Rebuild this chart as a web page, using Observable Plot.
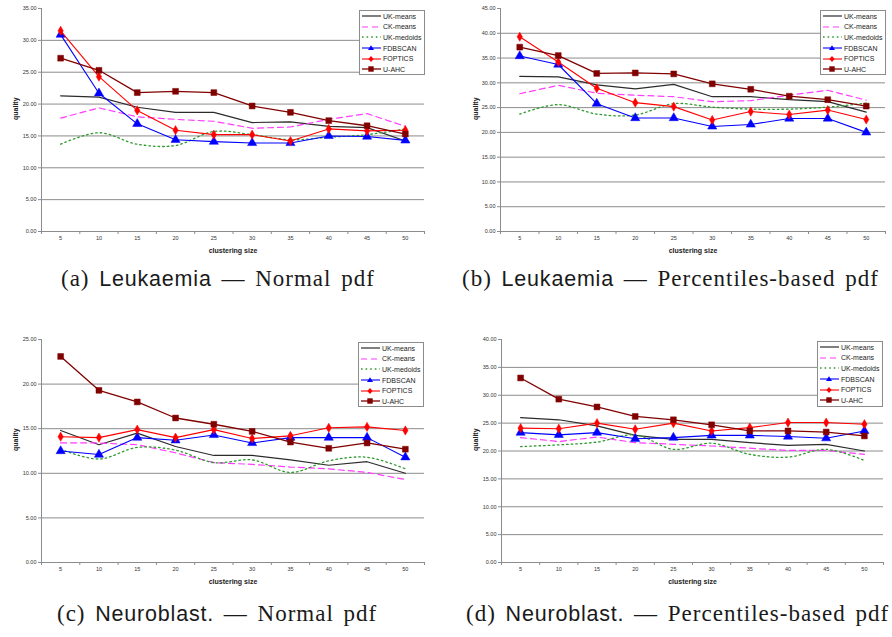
<!DOCTYPE html>
<html>
<head>
<meta charset="utf-8">
<script src="https://cdn.jsdelivr.net/npm/d3@7"></script>
<script src="https://cdn.jsdelivr.net/npm/@observablehq/plot@0.6"></script>
<style>
  html, body { margin: 0; padding: 0; background: #fff; overflow: hidden; }
  #fig { position: relative; width: 892px; height: 637px; background: #fff; }
  .panel { position: absolute; }
  .legend {
    position: absolute; background: #fff; border: 1px solid #8c8c8c;
    box-sizing: border-box; padding-top: 0px;
    font: 7px "Liberation Sans", Arial, sans-serif; color: #222;
  }
  .legend .row { display: flex; align-items: center; height: 10.6px; white-space: nowrap; }
  .legend svg { display: block; margin-left: 1px; margin-right: 2px; }
  .caption {
    position: absolute; white-space: nowrap; color: #1a1a1a;
    font-family: "Liberation Serif", "DejaVu Serif", "Times New Roman", serif; font-size: 23px;
    letter-spacing: 1px; word-spacing: 3px; line-height: 1;
  }
  .caption .ds { font-family: "Liberation Sans", Arial, sans-serif; font-size: 21.5px; letter-spacing: 0.8px; }
</style>
</head>
<body>
<div id="fig"></div>
<script>
// cluster sizes on the x axis
const sizes = [5, 10, 15, 20, 25, 30, 35, 40, 45, 50];
const methods = ["UK-means", "CK-means", "UK-medoids", "FDBSCAN", "FOPTICS", "U-AHC"];

// quality per method (rows follow `methods`)
const leukaemiaNormal = [
  [21.3, 21.1, 19.5, 18.7, 18.7, 17.1, 17.2, 16.5, 16.3, 14.2],
  [17.8, 19.4, 18.0, 17.6, 17.3, 16.2, 16.4, 17.6, 18.5, 16.5],
  [13.7, 15.5, 13.7, 13.5, 15.7, 15.2, 14.4, 14.8, 15.2, 16.1],
  [30.9, 21.7, 16.9, 14.4, 14.1, 13.9, 13.9, 15.0, 14.9, 14.3],
  [31.5, 24.3, 19.0, 15.9, 15.2, 15.2, 14.2, 16.1, 15.8, 15.9],
  [27.2, 25.3, 21.8, 22.0, 21.8, 19.7, 18.7, 17.4, 16.6, 15.3]
];
const leukaemiaPercentiles = [
  [31.3, 31.2, 29.6, 28.8, 29.7, 27.2, 27.2, 26.6, 26.2, 24.1],
  [27.8, 29.5, 27.9, 27.5, 27.2, 26.2, 26.4, 27.5, 28.5, 26.5],
  [23.7, 25.6, 23.7, 23.5, 25.8, 25.1, 24.7, 24.7, 25.1, 25.9],
  [35.4, 33.7, 25.8, 22.9, 22.9, 21.2, 21.6, 22.8, 22.8, 20.0],
  [39.3, 34.2, 28.9, 26.0, 25.2, 22.5, 24.2, 23.6, 24.5, 22.6],
  [37.2, 35.5, 31.9, 32.0, 31.8, 29.8, 28.7, 27.3, 26.6, 25.3]
];
const neuroblastNormal = [
  [14.8, 13.2, 14.5, 13.0, 12.0, 12.0, 11.5, 10.9, 11.3, 10.0],
  [13.4, 13.4, 13.2, 12.3, 11.2, 11.0, 10.7, 10.5, 10.1, 9.3],
  [12.7, 11.6, 12.9, 12.6, 11.2, 11.5, 10.1, 11.4, 11.8, 10.5],
  [12.5, 12.1, 14.0, 13.7, 14.3, 13.4, 14.0, 14.0, 14.0, 11.8],
  [14.1, 14.0, 14.9, 14.0, 14.9, 13.9, 14.2, 15.1, 15.2, 14.8],
  [23.1, 19.3, 18.0, 16.2, 15.5, 14.7, 13.5, 12.8, 13.4, 12.7]
];
const neuroblastPercentiles = [
  [26.0, 25.6, 24.5, 22.8, 22.1, 22.1, 21.5, 21.0, 21.2, 20.0],
  [22.4, 21.7, 22.5, 21.5, 21.2, 20.9, 20.5, 20.1, 20.1, 19.4],
  [20.8, 21.1, 21.6, 22.9, 20.3, 21.4, 19.4, 18.9, 20.3, 18.3],
  [23.3, 22.9, 23.3, 22.2, 22.4, 22.8, 22.8, 22.6, 22.3, 23.6],
  [24.1, 24.0, 25.0, 23.9, 25.0, 23.6, 24.2, 25.1, 25.1, 24.8],
  [33.1, 29.3, 27.9, 26.2, 25.6, 24.7, 23.6, 23.6, 23.4, 22.7]
];

// y tick labels per panel
const yTicksA = [0, 5, 10, 15, 20, 25, 30, 35];
const yTicksB = [0, 5, 10, 15, 20, 25, 30, 35, 40, 45];
const yTicksC = [0, 5, 10, 15, 20, 25];
const yTicksD = [0, 5, 10, 15, 20, 25, 30, 35, 40];

// line styles per method
const seriesStyle = [
  {stroke: "#2b2b2b", width: 1.2, dash: null, symbol: null},
  {stroke: "#ff3cff", width: 1.2, dash: "6,4", symbol: null},
  {stroke: "#2e9a2e", width: 1.3, dash: "1.6,3", symbol: null, curve: "catmull-rom"},
  {stroke: "#0000ff", width: 1.1, dash: null, symbol: "triangle", r: 3.4},
  {stroke: "#ff0000", width: 1.1, dash: null, symbol: "diamond", r: 2.8},
  {stroke: "#800000", width: 1.3, dash: null, symbol: "square", r: 3.3}
];

const fig = document.getElementById("fig");
const gridColor = "#8c8c8c";
const tickFont = "Liberation Sans, Arial, sans-serif";

function drawPanel(values, yTicks, box) {
  const rows = methods.flatMap((m, i) => sizes.map((s, j) => ({method: m, size: s, q: values[i][j]})));
  // category boundaries for the small x ticks
  const bounds = d3.range(sizes.length + 1).map(k => 2.5 + 5 * k);
  const yMax = yTicks[yTicks.length - 1];
  const marks = [
    Plot.ruleY(yTicks.slice(0, -1), {y: d => d, stroke: gridColor, strokeWidth: 1}),
    Plot.ruleX([2.5], {x: d => d, stroke: gridColor, strokeWidth: 1}),
    Plot.text(yTicks, {y: d => d, frameAnchor: "left", dx: -5, textAnchor: "end",
      text: d => d.toFixed(2), fontSize: 5.5, fill: "#333"}),
    Plot.text(sizes, {x: d => d, frameAnchor: "bottom", dy: 8, text: d => String(d),
      fontSize: 5.5, fill: "#333"}),
    Plot.text(["quality"], {frameAnchor: "left", dx: box.qdx, rotate: -90, text: d => d,
      fontSize: 7, fontWeight: "bold", fill: "#222"}),
    Plot.text(["clustering size"], {frameAnchor: "bottom", dy: 21, text: d => d,
      fontSize: 7, fontWeight: "bold", fill: "#222"})
  ];
  methods.forEach((m, i) => {
    const st = seriesStyle[i];
    const data = rows.filter(r => r.method === m);
    marks.push(Plot.line(data, {x: "size", y: "q", stroke: st.stroke, strokeWidth: st.width,
      strokeDasharray: st.dash || undefined, curve: st.curve || "linear"}));
    if (st.symbol) {
      marks.push(Plot.dot(data, {x: "size", y: "q", symbol: () => st.symbol, r: st.r,
        fill: st.stroke, stroke: st.stroke, strokeWidth: 0.5}));
    }
  });
  const svg = Plot.plot({
    width: box.w, height: box.h,
    marginLeft: box.ml, marginRight: box.mr, marginTop: box.mt, marginBottom: box.mb,
    style: {background: "transparent", color: gridColor, fontFamily: tickFont, overflow: "visible"},
    x: {type: "linear", domain: [2.5, 52.5], ticks: bounds, tickSize: 3,
      tickFormat: () => "", label: null},
    y: {domain: [0, yMax], ticks: yTicks, tickSize: 3, tickFormat: () => "", label: null},
    symbol: {type: "identity"},
    marks
  });
  const wrap = document.createElement("div");
  wrap.className = "panel";
  wrap.style.left = box.x + "px";
  wrap.style.top = box.y + "px";
  wrap.appendChild(svg);
  fig.appendChild(wrap);

  // legend box
  const lg = document.createElement("div");
  lg.className = "legend";
  Object.assign(lg.style, {left: box.lg[0] + "px", top: box.lg[1] + "px",
    width: box.lg[2] + "px", height: box.lg[3] + "px"});
  methods.forEach((m, i) => {
    const st = seriesStyle[i];
    let marker = "";
    if (st.symbol === "triangle") marker = `<path d="M10,1.2 L13,6 L7,6 Z" fill="${st.stroke}"/>`;
    if (st.symbol === "diamond") marker = `<path d="M10,1 L12.6,4 L10,7 L7.4,4 Z" fill="${st.stroke}"/>`;
    if (st.symbol === "square") marker = `<rect x="7.3" y="1.3" width="5.4" height="5.4" fill="${st.stroke}"/>`;
    const dash = st.dash ? `stroke-dasharray="${st.dash}"` : "";
    lg.insertAdjacentHTML("beforeend",
      `<div class="row"><svg width="20" height="8"><line x1="1" y1="4" x2="20" y2="4" stroke="${st.stroke}" stroke-width="${st.width}" ${dash}/>${marker}</svg><span>${m}</span></div>`);
  });
  fig.appendChild(lg);
}

drawPanel(leukaemiaNormal, yTicksA,
  {x: 0, y: 0, w: 445, h: 262, ml: 41, mr: 21, mt: 8, mb: 31, qdx: -26, lg: [359, 10, 66, 65]});
drawPanel(leukaemiaPercentiles, yTicksB,
  {x: 445, y: 0, w: 447, h: 262, ml: 55, mr: 7, mt: 8, mb: 31, qdx: -25, lg: [820, 10, 66, 65]});
drawPanel(neuroblastNormal, yTicksC,
  {x: 0, y: 310, w: 445, h: 280, ml: 41, mr: 21, mt: 29, mb: 28, qdx: -26, lg: [358, 342, 66, 65]});
drawPanel(neuroblastPercentiles, yTicksD,
  {x: 445, y: 310, w: 447, h: 280, ml: 56, mr: 9, mt: 29, mb: 28, qdx: -26, lg: [817, 341, 66, 66]});

// sub-figure captions
const captions = [
  {x: 61, y: 267, tag: "(a)", ds: "Leukaemia", rest: "Normal pdf"},
  {x: 462, y: 267, tag: "(b)", ds: "Leukaemia", rest: "Percentiles-based pdf"},
  {x: 57, y: 602, tag: "(c)", ds: "Neuroblast.", rest: "Normal pdf"},
  {x: 466, y: 602, tag: "(d)", ds: "Neuroblast.", rest: "Percentiles-based pdf"}
];
captions.forEach(c => {
  const el = document.createElement("div");
  el.className = "caption";
  el.style.left = c.x + "px";
  el.style.top = c.y + "px";
  el.innerHTML = `${c.tag} <span class="ds">${c.ds}</span> — ${c.rest}`;
  fig.appendChild(el);
});
</script>
</body>
</html>
